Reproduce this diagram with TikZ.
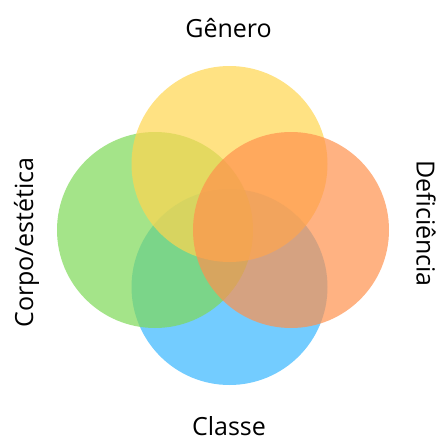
\documentclass[tikz,border=0pt]{standalone}
\usepackage{fontspec}
\setmainfont{Open Sans}
\definecolor{genero}{HTML}{FFD54F}
\definecolor{corpo}{HTML}{7ED957}
\definecolor{classe}{HTML}{38B6FF}
\definecolor{defic}{HTML}{FF914D}
\tikzset{
  setfill/.style={fill=#1,fill opacity=0.7},
  lbl/.style={inner sep=0pt,anchor=base,font=\fontsize{25}{30}\selectfont}
}
\begin{document}
\begin{tikzpicture}[x=1pt,y=-1pt]
\useasboundingbox (0,0) rectangle (439,439);
\fill[setfill=classe] (229.5,287) circle (98);
\fill[setfill=corpo] (155,230) circle (98);
\fill[setfill=genero] (229.5,164) circle (98);
\fill[setfill=defic] (291,230) circle (98);

\node[lbl] (gen) at (228.5,37) {Gênero};
\node[lbl] (cla) at (229,435.5) {Classe};
\node[lbl,rotate=90] (cor) at (33,242.5) {Corpo/estética};
\node[lbl,rotate=-90] (def) at (416.5,223.5) {Deficiência};
\end{tikzpicture}
\end{document}
